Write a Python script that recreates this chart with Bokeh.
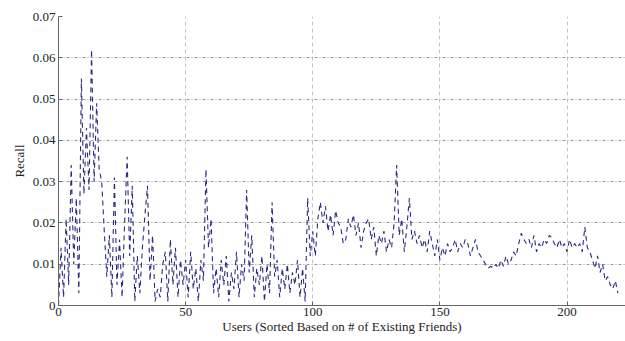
from bokeh.plotting import figure
from bokeh.embed import file_html
from bokeh.resources import INLINE
from bokeh.models import FixedTicker, CustomJSTickFormatter, Range1d

recall = [
    0.0, 0.014, 0.002, 0.021, 0.005, 0.034, 0.01, 0.026, 0.003, 0.055,
    0.027, 0.043, 0.028, 0.062, 0.03, 0.049, 0.033, 0.03, 0.018, 0.007,
    0.017, 0.002, 0.031, 0.005, 0.016, 0.002, 0.02, 0.036, 0.012, 0.029,
    0.001, 0.012, 0.003, 0.014, 0.022, 0.029, 0.006, 0.017, 0.001, 0.004,
    0.002, 0.01, 0.013, 0.001, 0.016, 0.005, 0.014, 0.002, 0.011, 0.005,
    0.011, 0.002, 0.013, 0.004, 0.009, 0.001, 0.011, 0.006, 0.033, 0.014,
    0.021, 0.003, 0.009, 0.002, 0.011, 0.005, 0.012, 0.001, 0.008, 0.004,
    0.013, 0.002, 0.01, 0.006, 0.028, 0.008, 0.017, 0.002, 0.009, 0.005,
    0.012, 0.001, 0.01, 0.003, 0.025, 0.007, 0.011, 0.002, 0.009, 0.004,
    0.01, 0.003, 0.008, 0.005, 0.011, 0.002, 0.009, 0.001, 0.026, 0.012,
    0.018, 0.012, 0.021, 0.025, 0.02, 0.024, 0.018, 0.022, 0.017, 0.023,
    0.02, 0.019, 0.015, 0.016, 0.021, 0.019, 0.022, 0.017, 0.02, 0.014,
    0.018, 0.02, 0.021, 0.016, 0.019, 0.012, 0.017, 0.015, 0.018, 0.013,
    0.016, 0.014, 0.02, 0.034, 0.017, 0.021, 0.013, 0.019, 0.026, 0.016,
    0.018, 0.015, 0.017, 0.014, 0.016, 0.013, 0.018, 0.015, 0.012, 0.016,
    0.011, 0.014, 0.012, 0.015, 0.013, 0.014, 0.016, 0.013, 0.015, 0.014,
    0.016, 0.015, 0.012, 0.014, 0.016, 0.013, 0.012, 0.011, 0.01, 0.009,
    0.0095, 0.009, 0.01, 0.009, 0.011, 0.0095, 0.012, 0.01, 0.011, 0.013,
    0.012, 0.015, 0.0175, 0.016, 0.015, 0.016, 0.014, 0.017, 0.013, 0.015,
    0.014, 0.016, 0.015, 0.017, 0.0165, 0.015, 0.014, 0.016, 0.014, 0.015,
    0.013, 0.016, 0.014, 0.015, 0.014, 0.015, 0.013, 0.019, 0.014, 0.013,
    0.011, 0.009, 0.012, 0.008, 0.01, 0.006, 0.007, 0.005, 0.004, 0.006,
    0.003,
]
users = list(range(len(recall)))
x_ticks = [0, 50, 100, 150, 200]
y_ticks = [0, 0.01, 0.02, 0.03, 0.04, 0.05, 0.06, 0.07]

FONT = "Liberation Serif"

p = figure(width=625, height=341, output_backend="svg", toolbar_location=None,
           x_range=Range1d(0, 223), y_range=Range1d(0, 0.07),
           min_border_left=58, min_border_right=0, min_border_top=16,
           min_border_bottom=36)
p.outline_line_color = None
p.background_fill_color = "white"

p.line(users, recall, line_color="#2a2a82", line_width=1.1, line_dash="5 4")

for ax in (p.xaxis[0], p.yaxis[0]):
    ax.major_label_text_font = FONT
    ax.major_label_text_font_size = "13px"
    ax.major_label_text_color = "#222222"
    ax.axis_label_text_font = FONT
    ax.axis_label_text_font_size = "13px"
    ax.axis_label_text_font_style = "normal"
    ax.axis_label_text_color = "#222222"
    ax.axis_line_color = "#666666"
    ax.major_tick_line_color = "#666666"
    ax.major_tick_out = 0
    ax.major_tick_in = 4
    ax.minor_tick_line_color = None

p.xaxis.ticker = FixedTicker(ticks=x_ticks)
p.yaxis.ticker = FixedTicker(ticks=y_ticks)
p.yaxis.formatter = CustomJSTickFormatter(
    code="return Math.abs(tick) < 1e-9 ? '0' : tick.toFixed(2);")
p.xaxis.axis_label = "Users (Sorted Based on # of Existing Friends)"
p.yaxis.axis_label = "Recall"
p.xaxis.major_label_standoff = 2
p.xaxis.axis_label_standoff = 0
p.yaxis.major_label_standoff = 3
p.yaxis.axis_label_standoff = 3

p.xgrid.grid_line_color = "#c4c4c4"
p.xgrid.grid_line_dash = "4 3"
p.ygrid.grid_line_color = "#9a9a9a"
p.ygrid.grid_line_dash = "3 2 1 2"

open("out.html", "w").write(file_html(p, INLINE))
